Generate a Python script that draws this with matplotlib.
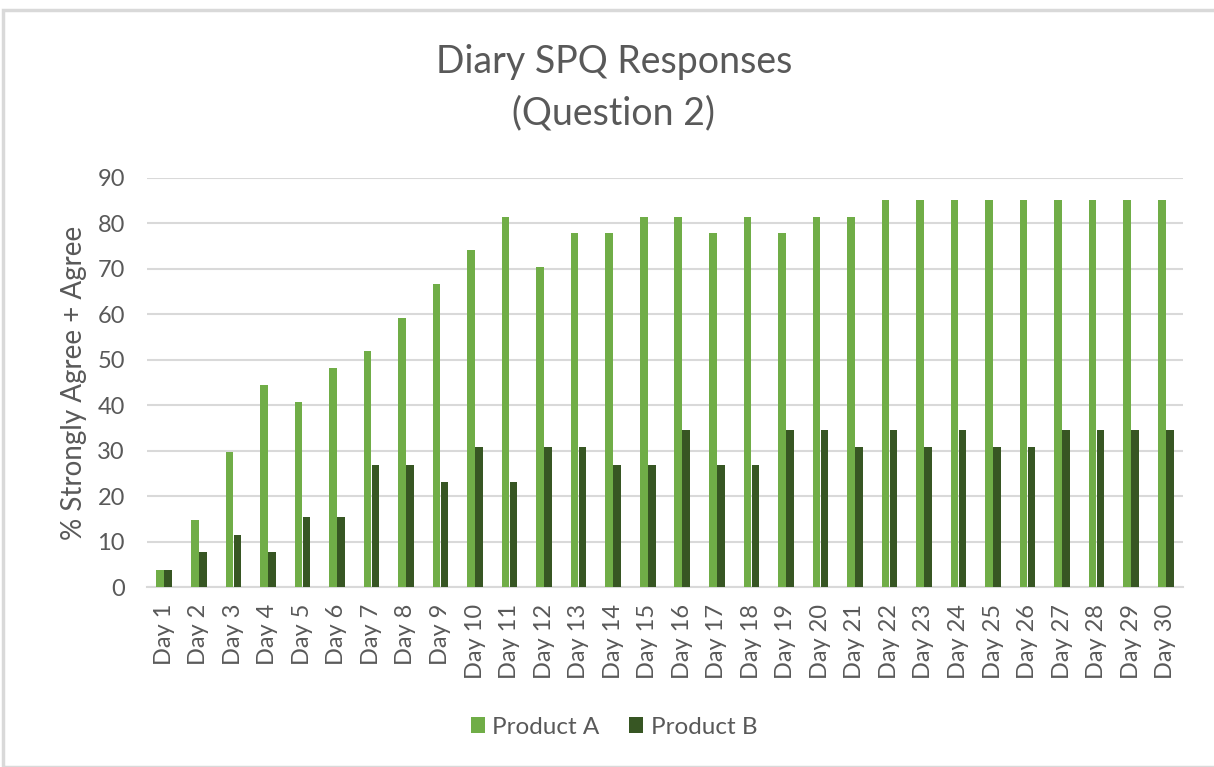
import matplotlib
matplotlib.use("Agg")
import matplotlib.pyplot as plt
from matplotlib.patches import Rectangle
import numpy as np

days = [f"Day {i}" for i in range(1, 31)]
product_a = [3.7, 14.8, 29.6, 44.4, 40.7, 48.1, 51.9, 59.3, 66.7, 74.1,
             81.5, 70.4, 77.8, 77.8, 81.5, 81.5, 77.8, 81.5, 77.8, 81.5,
             81.5, 85.2, 85.2, 85.2, 85.2, 85.2, 85.2, 85.2, 85.2, 85.2]
product_b = [3.8, 7.7, 11.5, 7.7, 15.4, 15.4, 26.9, 26.9, 23.1, 30.8,
             23.1, 30.8, 30.8, 26.9, 26.9, 34.6, 26.9, 26.9, 34.6, 34.6,
             30.8, 34.6, 30.8, 34.6, 30.8, 30.8, 34.6, 34.6, 34.6, 34.6]
series_names = ["Product A", "Product B"]
colors = ["#70AD47", "#375623"]
yticks = list(range(0, 91, 10))

plt.rcParams['font.family'] = ['Lato', 'DejaVu Sans']
txt = "#595959"

fig = plt.figure(figsize=(12.14, 7.67), dpi=100)
fig.patch.set_facecolor("white")
fig.patches.append(Rectangle((3/1214, 0), 1.2, (767-10)/767, transform=fig.transFigure,
                             fill=False, edgecolor="#d9d9d9", linewidth=2.5, zorder=0))

ax = fig.add_axes([147/1214, 1-587/767, (1183-147)/1214, (587-178)/767])
x = np.arange(len(days))
w = 0.22
ax.bar(x - 0.115, product_a, width=w, color=colors[0], label=series_names[0], zorder=3)
ax.bar(x + 0.115, product_b, width=w, color=colors[1], label=series_names[1], zorder=3)

ax.set_xlim(-0.5, len(days) - 0.5)
ax.set_ylim(0, 90)
ax.set_yticks(yticks)
ax.set_yticklabels([str(t) for t in yticks], fontsize=17, color=txt)
ax.set_xticks(x)
ax.set_xticklabels(days, rotation=90, fontsize=17, color=txt)
ax.tick_params(axis='both', length=0)
ax.tick_params(axis='y', pad=16)
ax.tick_params(axis='x', pad=12)
ax.grid(axis='y', color="#d9d9d9", linewidth=1.5, zorder=0)
for s in ["top", "right", "left"]:
    ax.spines[s].set_visible(False)
ax.spines["bottom"].set_color("#d9d9d9")
ax.spines["bottom"].set_linewidth(1.5)
ax.set_ylabel("% Strongly Agree + Agree", fontsize=20, color=txt, labelpad=7)

fig.text(614/1214, 1-62/767, "Diary SPQ Responses", ha="center", va="center", fontsize=27, color=txt)
fig.text(614/1214, 1-113/767, "(Question 2)", ha="center", va="center", fontsize=27, color=txt)

leg = fig.legend(loc="center", bbox_to_anchor=(614/1214, 1-727/767), ncol=2, frameon=False,
                 fontsize=17.5, handlelength=0.6, handleheight=0.6, handletextpad=0.3,
                 columnspacing=1.2, labelcolor=txt)

fig.savefig("out.png", dpi=100, facecolor="white")
